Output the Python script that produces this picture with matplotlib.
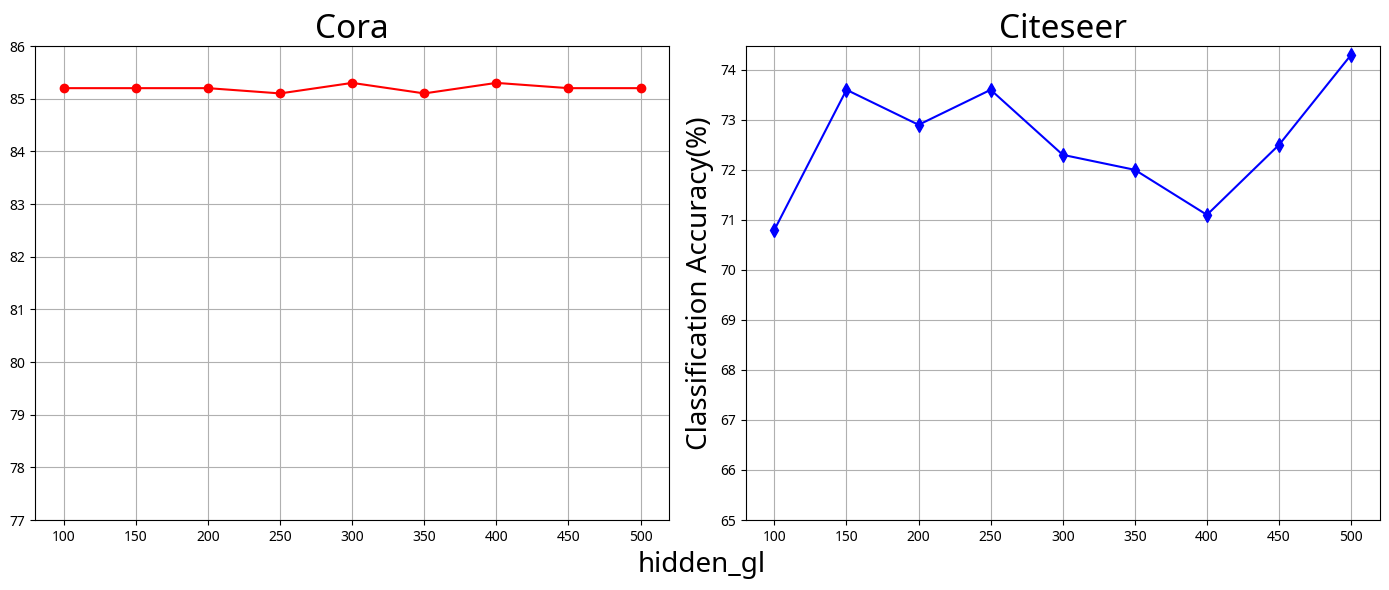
import matplotlib
matplotlib.use('Agg')
import matplotlib.pyplot as plt

plt.rcParams['font.family'] = ['Noto Sans', 'DejaVu Sans']

hidden_gl = [100, 150, 200, 250, 300, 350, 400, 450, 500]
cora_acc = [85.2, 85.2, 85.2, 85.1, 85.3, 85.1, 85.3, 85.2, 85.2]
citeseer_acc = [70.8, 73.6, 72.9, 73.6, 72.3, 72.0, 71.1, 72.5, 74.3]
citeseer_yticks = [65, 66, 67, 68, 69, 70, 71, 72, 73, 74]

fig, (ax1, ax2) = plt.subplots(1, 2, figsize=(13.89, 5.9), dpi=100)

# Cora
ax1.plot(hidden_gl, cora_acc, color='red', marker='o', linewidth=1.5)
ax1.set_ylim(77, 86)
ax1.set_xticks(hidden_gl)
ax1.set_title('Cora', fontsize=24)
ax1.grid(True)

# Citeseer
ax2.plot(hidden_gl, citeseer_acc, color='blue', marker='d', markersize=7, linewidth=1.5)
ax2.set_ylim(bottom=65)
ax2.set_yticks(citeseer_yticks)
ax2.set_xticks(hidden_gl)
ax2.set_title('Citeseer', fontsize=24)
ax2.set_ylabel('Classification Accuracy(%)', fontsize=20)
ax2.grid(True)

for ax in (ax1, ax2):
    ax.tick_params(labelsize=10)

fig.text(0.505, 0.042, 'hidden_gl', fontsize=20, ha='center', va='center')

plt.subplots_adjust(left=0.0252, right=0.9935, bottom=0.1186, top=0.922, wspace=0.12)
plt.savefig('out.png', dpi=100)
plt.close(fig)
